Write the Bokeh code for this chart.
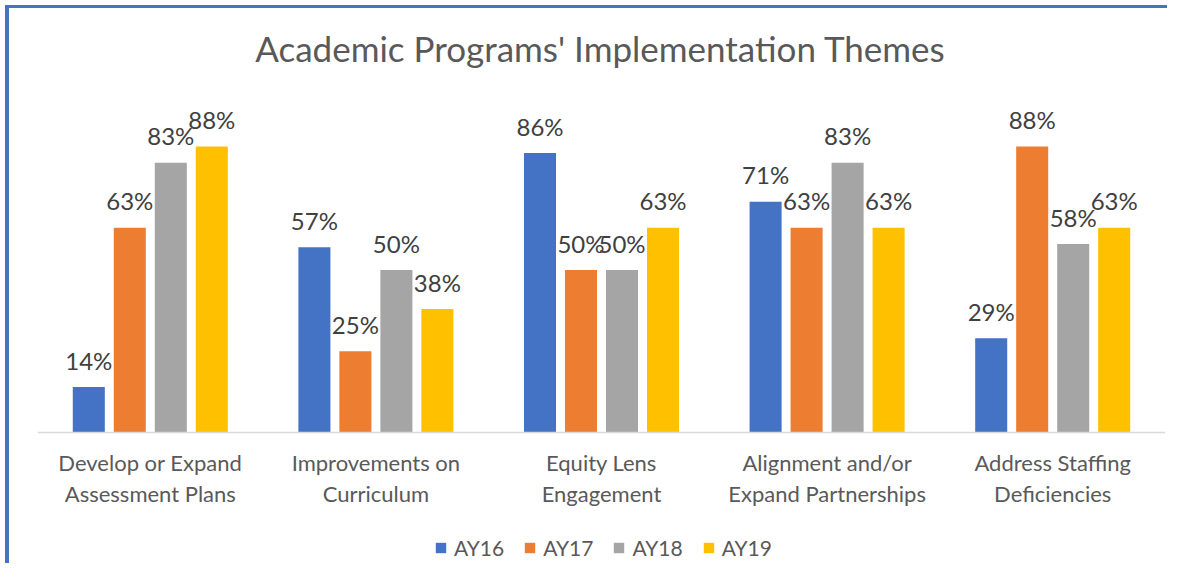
from bokeh.plotting import figure
from bokeh.models import ColumnDataSource, FactorRange, Legend, LegendItem, Label, Span
from bokeh.transform import dodge
from bokeh.core.properties import value
from bokeh.embed import file_html
from bokeh.resources import INLINE

categories = ["Develop or Expand\nAssessment Plans", "Improvements on\nCurriculum",
              "Equity Lens\nEngagement", "Alignment and/or\nExpand Partnerships",
              "Address Staffing\nDeficiencies"]
years = ["AY16", "AY17", "AY18", "AY19"]
ay16 = [14, 57, 86, 71, 29]
ay17 = [63, 25, 50, 63, 88]
ay18 = [83, 50, 50, 83, 58]
ay19 = [88, 38, 63, 63, 63]
colors = ["#4472C4", "#ED7D31", "#A5A5A5", "#FFC000"]
title_text = "Academic Programs' Implementation Themes"

FONT = "Lato"
W, H = 1162, 558
PX = 3.25                      # pixels per percentage point
BASE = 424                     # baseline, px from top of plot
p = figure(width=W, height=H, x_range=FactorRange(*categories, range_padding=0),
           y_range=(-(H - BASE) / PX, BASE / PX), output_backend="svg", toolbar_location=None,
           min_border_left=28, min_border_right=6, min_border_top=0, min_border_bottom=0)
p.outline_line_color = None
p.grid.visible = False
p.axis.visible = False
p.styles = {"margin-left": "5px", "margin-top": "5px",
            "border-left": "4px solid #4472C4", "border-top": "3px solid #4472C4"}

# baseline (category axis line)
p.add_layout(Span(location=0, dimension="width", line_color="#D9D9D9", line_width=1.5))

# category labels
cat_src = ColumnDataSource(dict(cat=categories, y=[0] * len(categories)))
p.text(x="cat", y="y", text="cat", source=cat_src, text_align="center", text_baseline="top",
       y_offset=16, text_font=value(FONT), text_font_size="22px", text_color="#595959",
       text_line_height=1.15)

offsets = [-0.2726, -0.0909, 0.0909, 0.2726]
items = []
for yr, vals, col, off in zip(years, [ay16, ay17, ay18, ay19], colors, offsets):
    src = ColumnDataSource(dict(cat=categories, val=vals, lbl=[f"{v}%" for v in vals]))
    r = p.vbar(x=dodge("cat", off, range=p.x_range), top="val", width=0.142, source=src,
               fill_color=col, line_color=None)
    p.text(x=dodge("cat", off, range=p.x_range), y="val", text="lbl", source=src,
           text_align="center", text_baseline="alphabetic", y_offset=-27,
           text_font=value(FONT), text_font_size="24px", text_color="#404040")
    items.append(LegendItem(label=yr, renderers=[r]))

legend = Legend(items=items, orientation="horizontal", location=(397, 6),
                label_text_font=FONT, label_text_font_size="21px", label_text_color="#595959",
                glyph_width=13, glyph_height=13, label_standoff=7, spacing=19,
                padding=0, margin=0, border_line_color=None, background_fill_alpha=0)
p.add_layout(legend, "center")

p.add_layout(Label(x=563, y=H - 39, x_units="screen", y_units="screen", text=title_text,
                   text_align="center", text_baseline="middle", text_font=FONT,
                   text_font_size="35px", text_color="#595959"))

open("out.html", "w").write(file_html(p, INLINE))
